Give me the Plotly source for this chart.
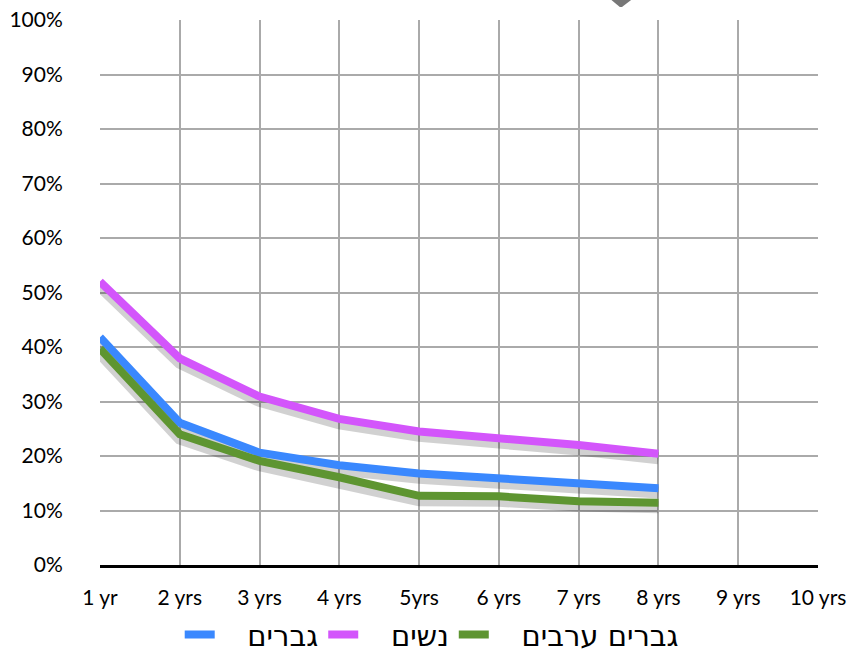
import plotly.graph_objects as go

categories = ["1 yr", "2 yrs", "3 yrs", "4 yrs", "5yrs", "6 yrs", "7 yrs", "8 yrs", "9 yrs", "10 yrs"]
men = [41.8, 26.1, 20.6, 18.3, 16.8, 15.8, 14.9, 14.1]
women = [52.0, 37.9, 30.9, 26.8, 24.5, 23.4, 22.0, 20.4]
arab_men = [39.7, 24.0, 19.1, 16.1, 12.7, 12.6, 11.7, 11.4]

series = [
    ("גברים", men, "#3a88fe"),
    ("נשים", women, "#d355fb"),
    ("גברים ערבים", arab_men, "#5e9531"),
]

font_family = "Lato, 'Open Sans', sans-serif"
fig = go.Figure()

# soft shadows
for name, vals, color in series:
    fig.add_trace(go.Scatter(
        x=categories[:len(vals)], y=[v - 0.8 for v in vals], mode="lines",
        line=dict(color="rgba(0,0,0,0.18)", width=12), showlegend=False, hoverinfo="skip"))

for name, vals, color in series:
    fig.add_trace(go.Scatter(
        x=categories[:len(vals)], y=vals, mode="lines", name="\u00a0\u00a0\u00a0" + name,
        line=dict(color=color, width=8)))

# small gray pointer fragment at the top edge
fig.add_shape(type="path", xref="paper", yref="paper",
              path="M 0.712 1.037 L 0.740 1.037 L 0.727 1.024 L 0.724 1.024 Z",
              fillcolor="#777777", line=dict(width=0))

fig.update_layout(
    width=863, height=655,
    margin=dict(l=100, r=45, t=20, b=90, autoexpand=False),
    paper_bgcolor="white", plot_bgcolor="white",
    font=dict(family=font_family, color="black", size=21),
    showlegend=True,
    legend=dict(orientation="h", x=0.462, xanchor="center", y=-0.128, yanchor="middle",
                font=dict(size=29, family="'DejaVu Sans', sans-serif"),
                itemwidth=30, traceorder="normal"),
    xaxis=dict(type="category", categoryorder="array", categoryarray=categories,
               range=[0, 9], showgrid=True, gridcolor="#aaaaaa", gridwidth=2,
               showline=True, linecolor="black", linewidth=3, ticks="outside",
               ticklen=12, tickcolor="rgba(0,0,0,0)", zeroline=False,
               automargin=False, tickfont=dict(size=21)),
    yaxis=dict(range=[0, 100], dtick=10, ticksuffix="%", showgrid=True,
               gridcolor="#aaaaaa", gridwidth=2, zeroline=False, showline=False,
               ticks="outside", ticklen=32, tickcolor="rgba(0,0,0,0)",
               automargin=False, tickfont=dict(size=21)),
)

fig.write_html("out.html", config={"displayModeBar": False},
               post_script="document.body.style.margin='0px';")
